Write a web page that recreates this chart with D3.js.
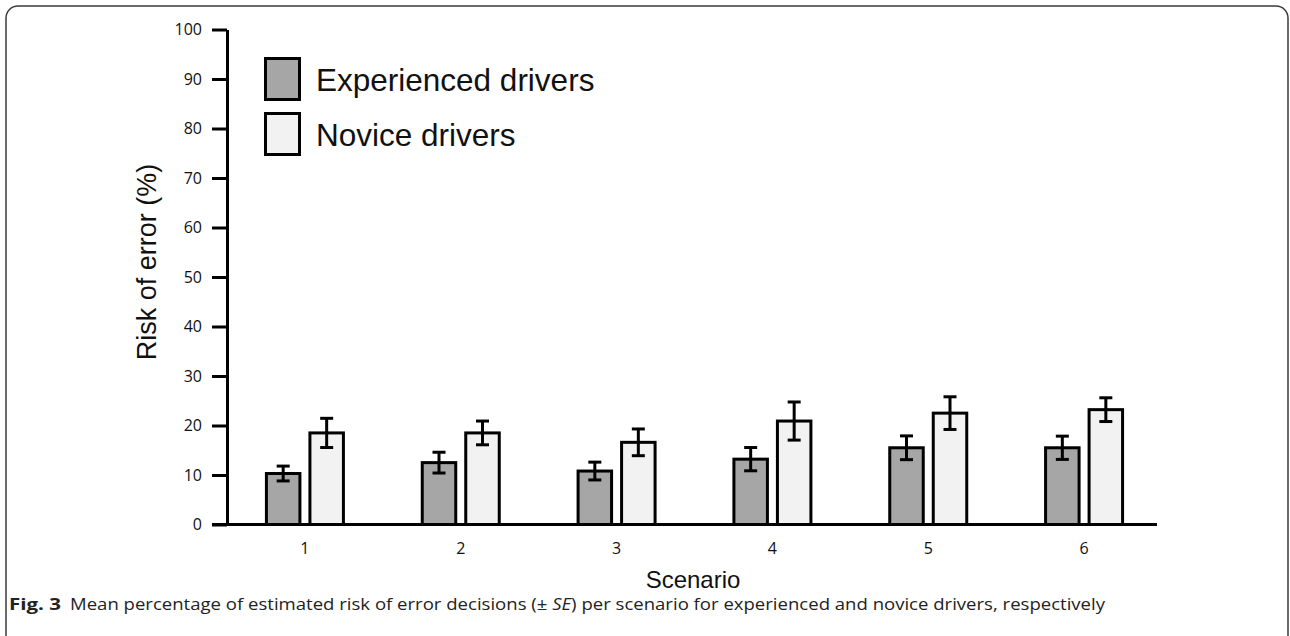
<!DOCTYPE html>
<html>
<head>
<meta charset="utf-8">
<script src="https://cdn.jsdelivr.net/npm/d3@7"></script>
<style>
  html, body { margin: 0; padding: 0; background: #fff; }
  svg { display: block; }
</style>
</head>
<body>
<svg id="fig" width="1290" height="636"></svg>
<script>
// Scenario categories and the two driver groups
const scenarios = ["1", "2", "3", "4", "5", "6"];
const groups = ["Experienced drivers", "Novice drivers"];

// Mean estimated risk of error (%) per scenario
const experiencedMean = [10.3, 12.5, 10.8, 13.2, 15.5, 15.5];
const noviceMean      = [18.5, 18.5, 16.6, 20.9, 22.5, 23.2];

// Standard errors
const experiencedSE = [1.5, 2.1, 1.8, 2.35, 2.4, 2.35];
const noviceSE      = [2.95, 2.4, 2.7, 3.85, 3.3, 2.4];

// Y axis ticks
const yTicks = [0, 10, 20, 30, 40, 50, 60, 70, 80, 90, 100];

const fills = ["#a6a6a6", "#f2f2f2"];

const svg = d3.select("#fig");

// Figure frame
svg.append("rect")
  .attr("x", 6).attr("y", 6)
  .attr("width", 1282).attr("height", 660)
  .attr("rx", 12).attr("ry", 12)
  .attr("fill", "none")
  .attr("stroke", "#3a3a3a")
  .attr("stroke-width", 1.5);

const y = d3.scaleLinear().domain([0, 100]).range([524.5, 29.5]);
const x = d3.scaleBand().domain(scenarios).range([227, 1162]).padding(0);
const xSub = d3.scaleBand().domain(groups).range([-40, 40]).paddingInner(0.161).paddingOuter(0);

const rows = scenarios.map((s, i) => ({
  scenario: s,
  values: [
    { group: groups[0], mean: experiencedMean[i], se: experiencedSE[i] },
    { group: groups[1], mean: noviceMean[i], se: noviceSE[i] }
  ]
}));

const sw = 3;

// Bars
const g = svg.append("g");
const grp = g.selectAll("g.scenario").data(rows).join("g")
  .attr("class", "scenario")
  .attr("transform", d => `translate(${x(d.scenario) + x.bandwidth() / 2},0)`);

grp.selectAll("rect").data(d => d.values).join("rect")
  .attr("x", d => xSub(d.group) + sw / 2)
  .attr("width", xSub.bandwidth() - sw)
  .attr("y", d => y(d.mean))
  .attr("height", d => y(0) - y(d.mean))
  .attr("fill", (d, i) => fills[i])
  .attr("stroke", "#000")
  .attr("stroke-width", sw);

// Error bars (± SE)
const eb = grp.selectAll("g.err").data(d => d.values).join("g")
  .attr("class", "err")
  .attr("transform", d => `translate(${xSub(d.group) + xSub.bandwidth() / 2},0)`);
eb.append("line")
  .attr("x1", 0).attr("x2", 0)
  .attr("y1", d => y(d.mean + d.se)).attr("y2", d => y(d.mean - d.se))
  .attr("stroke", "#000").attr("stroke-width", sw);
eb.append("line")
  .attr("x1", -6.5).attr("x2", 6.5)
  .attr("y1", d => y(d.mean + d.se)).attr("y2", d => y(d.mean + d.se))
  .attr("stroke", "#000").attr("stroke-width", sw);
eb.append("line")
  .attr("x1", -6.5).attr("x2", 6.5)
  .attr("y1", d => y(d.mean - d.se)).attr("y2", d => y(d.mean - d.se))
  .attr("stroke", "#000").attr("stroke-width", sw);

// Y axis
const yAxis = svg.append("g")
  .attr("transform", "translate(227,0)")
  .call(d3.axisLeft(y).tickValues(yTicks).tickSize(15).tickSizeOuter(0).tickPadding(10));
yAxis.select(".domain").attr("stroke", "#000").attr("stroke-width", sw);
yAxis.selectAll(".tick line").attr("stroke", "#000").attr("stroke-width", sw);
yAxis.selectAll(".tick text")
  .attr("font-family", "'Open Sans', sans-serif")
  .attr("font-size", 16)
  .attr("fill", "#111");

// X axis: baseline plus scenario labels
svg.append("line")
  .attr("x1", 227 - 15).attr("x2", 1157)
  .attr("y1", y(0)).attr("y2", y(0))
  .attr("stroke", "#000").attr("stroke-width", sw);

const xAxis = svg.append("g")
  .attr("transform", `translate(0,${y(0)})`)
  .call(d3.axisBottom(x).tickSize(0).tickPadding(18));
xAxis.select(".domain").remove();
xAxis.selectAll(".tick text")
  .attr("font-family", "'Open Sans', sans-serif")
  .attr("font-size", 16)
  .attr("fill", "#111");

// Axis titles
svg.append("text")
  .attr("transform", "translate(156,262) rotate(-90)")
  .attr("text-anchor", "middle")
  .attr("font-family", "'Liberation Sans', Arial, sans-serif")
  .attr("font-size", 27)
  .attr("fill", "#111")
  .text("Risk of error (%)");

svg.append("text")
  .attr("x", 693).attr("y", 588)
  .attr("text-anchor", "middle")
  .attr("font-family", "'Liberation Sans', Arial, sans-serif")
  .attr("font-size", 24)
  .attr("fill", "#111")
  .text("Scenario");

// Legend
const legend = svg.append("g").attr("transform", "translate(264,57)");
const li = legend.selectAll("g").data(groups).join("g")
  .attr("transform", (d, i) => `translate(0,${i * 55})`);
li.append("rect")
  .attr("x", sw / 2).attr("y", sw / 2)
  .attr("width", 37 - sw).attr("height", 44 - sw)
  .attr("fill", (d, i) => fills[i])
  .attr("stroke", "#000").attr("stroke-width", sw);
li.append("text")
  .attr("x", 52).attr("y", 34)
  .attr("font-family", "'Liberation Sans', Arial, sans-serif")
  .attr("font-size", 31.5)
  .attr("fill", "#111")
  .text(d => d);

// Caption
svg.append("text")
  .attr("x", 9).attr("y", 610)
  .attr("font-family", "'Open Sans', sans-serif")
  .attr("font-size", 16)
  .attr("font-weight", "bold")
  .attr("fill", "#222")
  .attr("textLength", 52)
  .attr("lengthAdjust", "spacingAndGlyphs")
  .text("Fig. 3");
const capBody = svg.append("text")
  .attr("x", 70).attr("y", 610)
  .attr("font-family", "'Open Sans', sans-serif")
  .attr("font-size", 15.5)
  .attr("fill", "#222")
  .attr("textLength", 1035)
  .attr("lengthAdjust", "spacingAndGlyphs");
capBody.append("tspan").text("Mean percentage of estimated risk of error decisions (\u00B1 ");
capBody.append("tspan").attr("font-style", "italic").text("SE");
capBody.append("tspan").text(") per scenario for experienced and novice drivers, respectively");
</script>
</body>
</html>
